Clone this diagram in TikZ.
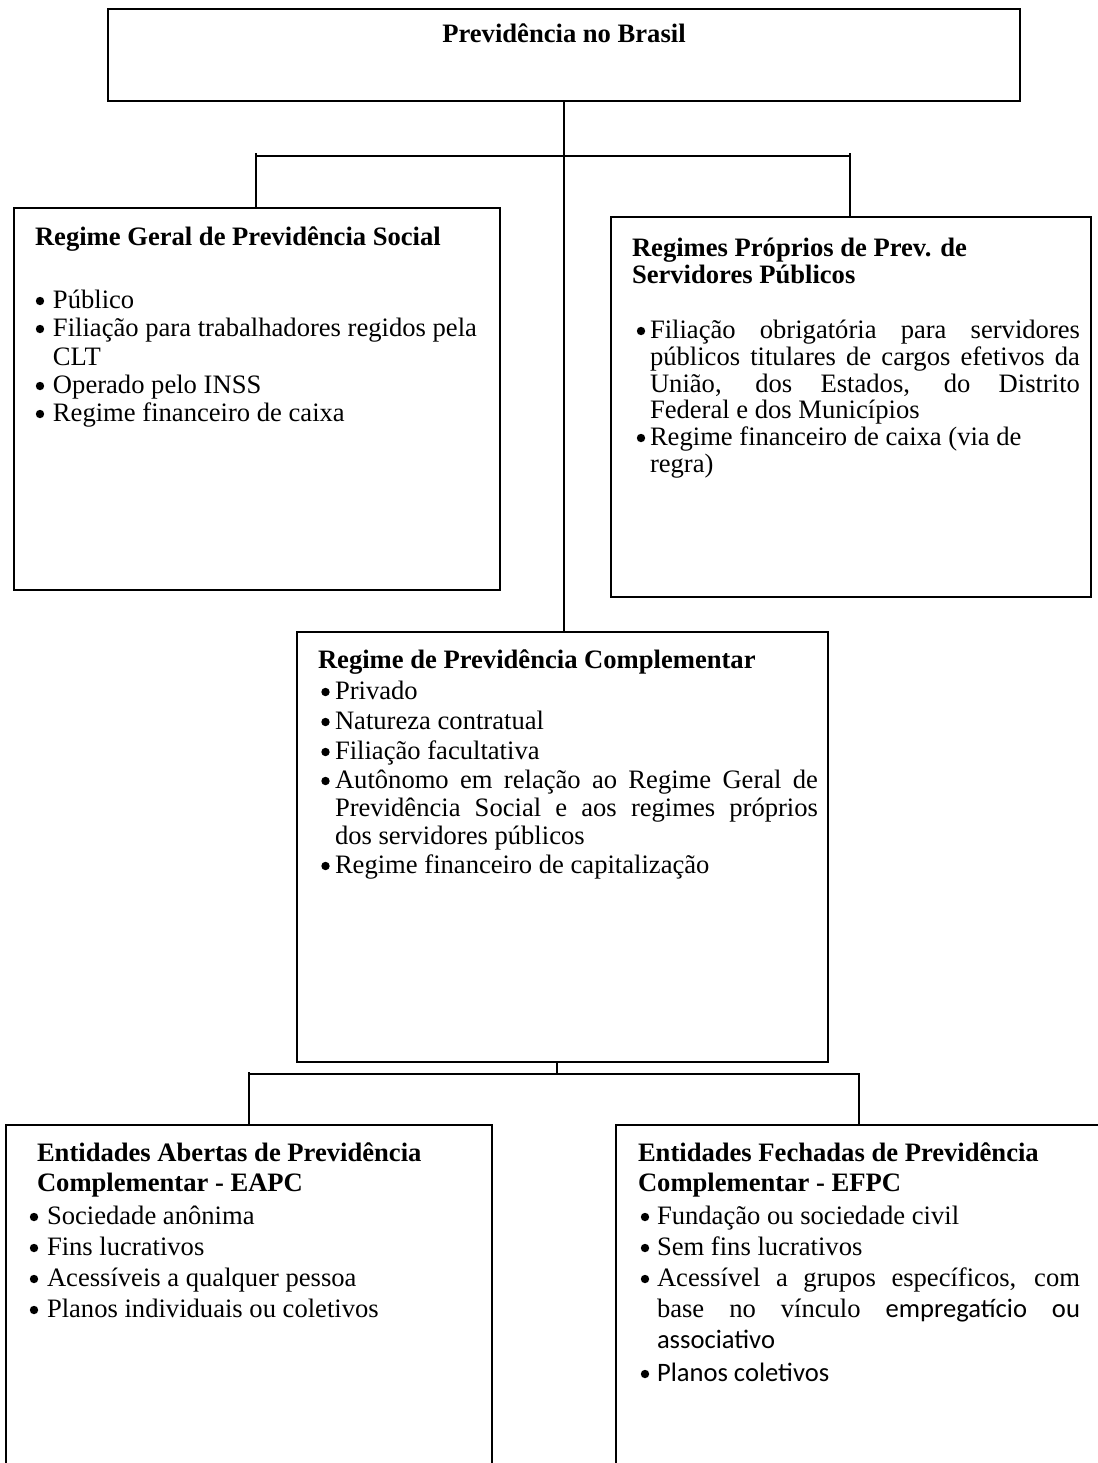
\documentclass[tikz,border=0pt]{standalone}
\usepackage{fontspec}
\setmainfont{Liberation Serif}
\newfontfamily\calfont{Carlito}
\tikzset{
  box/.style={draw, line width=1pt, inner sep=0pt, outer sep=0pt, anchor=north west},
  conn/.style={line width=0.75pt},
  txt/.style={anchor=base west, inner sep=0pt, outer sep=0pt, font=\fontsize{13.3}{14}\selectfont},
  btxt/.style={txt, font=\fontsize{13.3}{14}\selectfont\bfseries},
  dot/.style={circle, fill=black, inner sep=0pt, minimum size=4.2pt},
}
\newcommand\jl[2]{\makebox[#1][s]{#2}}
\begin{document}
\begin{tikzpicture}[x=0.5pt,y=-0.5pt]
\clip (0,0) rectangle (1098,1463);
\useasboundingbox (0,0) rectangle (1098,1463);

% boxes
\node[box, minimum width=456pt, minimum height=46pt] (top) at (108,9) {};
\node[box, minimum width=243pt, minimum height=191pt] (rgps) at (14,208) {};
\node[box, minimum width=240pt, minimum height=190pt] (rpps) at (611,217) {};
\node[box, minimum width=265.5pt, minimum height=215pt] (rpc) at (297,632) {};
\node[box, minimum width=243pt, minimum height=200pt] (eapc) at (6,1125) {};
\node[box, minimum width=250pt, minimum height=200pt] (efpc) at (616,1125) {};

% connectors
\coordinate (ja) at (256,156);
\coordinate (jb) at (850,156);
\draw[conn] (top.south) -- (top.south |- rpc.north);
\draw[conn] ([yshift=1.5pt]ja) -- (ja) -- (jb) -- ([yshift=1.5pt]jb);
\draw[conn] (ja) -- (ja |- rgps.north);
\draw[conn] (jb) -- (jb |- rpps.north);
\coordinate (jc) at (249,1074);
\coordinate (jd) at (859,1074);
\coordinate (jm) at (557,1074);
\draw[conn] (rpc.south -| jm) -- (jm);
\draw[conn] ([yshift=1pt]jc) -- (jc) -- (jd) -- (jd |- efpc.north);
\draw[conn] (jc) -- (jc |- eapc.north);

% top title
\node[btxt, anchor=base] (t0) at (564,42) {Previdência no Brasil};

% RGPS
\node[btxt] (a0) at (35,245) {Regime Geral de Previdência Social};
\node[dot] (ab1) at (40,301) {};
\node[txt] (a1) at (53,308) {Público};
\node[dot] (ab2) at (40,329) {};
\node[txt] (a2) at (53,336) {Filiação para trabalhadores regidos pela};
\node[txt] (a3) at (53,365) {CLT};
\node[dot] (ab4) at (40,386) {};
\node[txt] (a4) at (53,393) {Operado pelo INSS};
\node[dot] (ab5) at (40,414) {};
\node[txt] (a5) at (53,421) {Regime financeiro de caixa};

% RPPS
\node[btxt] (b0) at (632,256) {Regimes Próprios de Prev. de};
\node[btxt] (b0b) at (632,283) {Servidores Públicos};
\node[dot] (bb1) at (641,331) {};
\node[txt] (b1) at (650,338) {\jl{215pt}{Filiação obrigatória para servidores}};
\node[txt] (b2) at (650,365) {\jl{215pt}{públicos titulares de cargos efetivos da}};
\node[txt] (b3) at (650,392) {\jl{215pt}{União, dos Estados, do Distrito}};
\node[txt] (b4) at (650,418) {Federal e dos Municípios};
\node[dot] (bb5) at (641,438) {};
\node[txt] (b5) at (650,445) {Regime financeiro de caixa (via de};
\node[txt] (b6) at (650,472) {regra)};

% RPC
\node[btxt] (c0) at (318,668) {Regime de Previdência Complementar};
\node[dot] (cb1) at (325.5,692) {};
\node[txt] (c1) at (335,699) {Privado};
\node[dot] (cb2) at (325.5,722) {};
\node[txt] (c2) at (335,729) {Natureza contratual};
\node[dot] (cb3) at (325.5,752) {};
\node[txt] (c3) at (335,759) {Filiação facultativa};
\node[dot] (cb4) at (325.5,781) {};
\node[txt] (c4) at (335,788) {\jl{241.5pt}{Autônomo em relação ao Regime Geral de}};
\node[txt] (c5) at (335,816) {\jl{241.5pt}{Previdência Social e aos regimes próprios}};
\node[txt] (c6) at (335,844) {dos servidores públicos};
\node[dot] (cb7) at (325.5,866) {};
\node[txt] (c7) at (335,873) {Regime financeiro de capitalização};

% EAPC
\node[btxt] (d0) at (37,1161) {Entidades Abertas de Previdência};
\node[btxt] (d0b) at (37,1191) {Complementar - EAPC};
\node[dot] (db1) at (34,1217) {};
\node[txt] (d1) at (47,1224) {Sociedade anônima};
\node[dot] (db2) at (34,1248) {};
\node[txt] (d2) at (47,1255) {Fins lucrativos};
\node[dot] (db3) at (34,1279) {};
\node[txt] (d3) at (47,1286) {Acessíveis a qualquer pessoa};
\node[dot] (db4) at (34,1310) {};
\node[txt] (d4) at (47,1317) {Planos individuais ou coletivos};

% EFPC
\node[btxt] (e0) at (638,1161) {Entidades Fechadas de Previdência};
\node[btxt] (e0b) at (638,1191) {Complementar - EFPC};
\node[dot] (eb1) at (645,1217) {};
\node[txt] (e1) at (657,1224) {Fundação ou sociedade civil};
\node[dot] (eb2) at (645,1248) {};
\node[txt] (e2) at (657,1255) {Sem fins lucrativos};
\node[dot] (eb3) at (645,1279) {};
\node[txt] (e3) at (657,1286) {\jl{211.5pt}{Acessível a grupos específicos, com}};
\node[txt] (e4) at (657,1317) {\jl{211.5pt}{base no vínculo {\calfont empregatício} {\calfont ou}}};
\node[txt] (e5) at (657,1348) {\calfont associativo};
\node[dot] (eb6) at (645,1374) {};
\node[txt] (e6) at (657,1381) {\calfont Planos coletivos};
\end{tikzpicture}
\end{document}
